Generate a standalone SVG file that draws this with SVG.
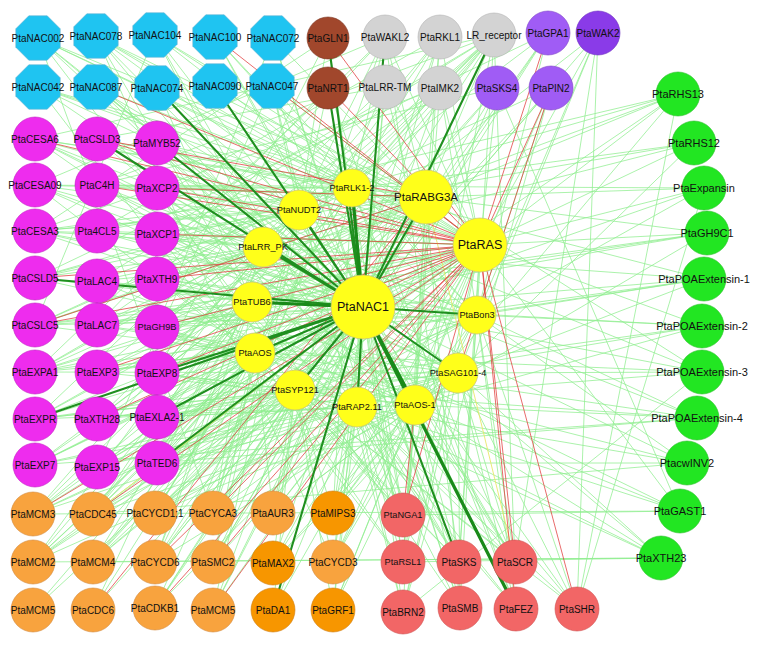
<svg xmlns="http://www.w3.org/2000/svg" xmlns:xlink="http://www.w3.org/1999/xlink" width="760" height="645" viewBox="0 0 760 645">
<style>
.g{stroke:#8fee8f;stroke-width:.75;fill:none}
.r{stroke:#e03a3a;stroke-width:.75;fill:none}
.y{stroke:#e8e86a;stroke-width:.9;fill:none}
.d{stroke:#1f8f1f;stroke-width:2.1;fill:none}
.d2{stroke:#1a8a1a;stroke-width:3.2;fill:none}
.nb{fill:#1fc4f1;stroke:#62b2d2;stroke-width:.6}
.br{fill:#a1472c;stroke:#7c3622;stroke-width:.6}
.gr{fill:#d3d3d3;stroke:#b2b2b2;stroke-width:.6}
.pu{fill:#a05cf5;stroke:#7f45c8;stroke-width:.6}
.pu2{fill:#8a3be8;stroke:#6c2cc0;stroke-width:.6}
.pk{fill:#ee2cee;stroke:#c21fc2;stroke-width:.6}
.ye{fill:#ffff1a;stroke:#c9c27a;stroke-width:.7}
.or{fill:#f8a33e;stroke:#d48a3c;stroke-width:.6}
.or2{fill:#f79600;stroke:#d07e10;stroke-width:.6}
.rd{fill:#f26666;stroke:#d05050;stroke-width:.6}
.gn{fill:#22e622;stroke:#2bbf2b;stroke-width:.6}
text{font-family:"Liberation Sans",Arial,sans-serif;font-size:10px;text-anchor:middle;dominant-baseline:central;fill:#111}
.s{font-size:9.2px}
.big{font-size:12.5px}
.gt{font-size:11px}
</style>
<defs>
<polygon id="oct" points="9.2,-22.2 22.2,-9.2 22.2,9.2 9.2,22.2 -9.2,22.2 -22.2,9.2 -22.2,-9.2 -9.2,-22.2"/>
</defs>
<rect width="760" height="645" fill="#fff"/>
<g id="connectors">
<path class="g" d="M363 307L38 38M363 307L96 36M363 307L155 35M363 307L215 37M363 307L273 38M363 307L38 87M363 307L96 87M363 307L272 86M363 307L385 87M363 307L440 37M363 307L440 88M363 307L548 33M363 307L598 33M363 307L497 88M363 307L551 88M363 307L678 94M363 307L704 188M363 307L704 279M363 307L702 372M363 307L687 463M363 307L661 558M363 307L35 139M363 307L35 185M363 307L97 185M363 307L157 188M363 307L35 231M363 307L97 231M363 307L157 234M363 307L97 281M363 307L157 279M363 307L35 325M363 307L97 325M363 307L157 327M363 307L35 372M363 307L97 372M363 307L97 419M363 307L35 465M363 307L97 467M363 307L33 514M363 307L93 514M363 307L155 513M363 307L213 513M363 307L273 513M363 307L333 513M363 307L33 562M363 307L93 562M363 307L155 562M363 307L213 562M363 307L273 563M363 307L333 562M363 307L33 610M363 307L93 610M363 307L155 608M363 307L213 610M363 307L333 610M363 307L403 515M363 307L403 562M363 307L403 612M363 307L460 608M363 307L515 562M363 307L577 609"/>
<path class="g" d="M480 245L38 38M480 245L96 36M480 245L155 35M480 245L38 87M480 245L157 88M480 245L215 86M480 245L272 86M480 245L385 37M480 245L440 37M480 245L440 88M480 245L385 87M480 245L598 33M480 245L497 88M480 245L35 231M480 245L97 231M480 245L97 281M480 245L97 325M480 245L157 143M480 245L35 372M480 245L35 419M480 245L157 417M480 245L157 463M480 245L35 465M480 245L97 467M480 245L35 185M480 245L33 562M480 245L93 562M480 245L155 513M480 245L273 513M480 245L333 513M480 245L273 563M480 245L273 610M480 245L333 610M480 245L333 562M480 245L403 612M480 245L459 562M480 245L460 608M480 245L403 562M480 245L678 94M480 245L694 143M480 245L707 233M480 245L702 326M480 245L680 511"/>
<path class="g" d="M426 197L35 139M426 197L35 185M426 197L35 231M426 197L35 278M426 197L35 325M426 197L35 372M426 197L35 419M426 197L35 465M426 197L97 185M426 197L97 325M426 197L157 234M426 197L157 327M426 197L97 372M426 197L38 38M426 197L96 36M426 197L38 87M426 197L155 35M426 197L273 38M426 197L33 514M426 197L33 562M426 197L93 514M426 197L155 562M426 197L213 513M426 197L213 562M426 197L213 610M426 197L155 608M426 197L93 562M426 197L403 612M426 197L403 562M426 197L460 608M426 197L678 94M426 197L702 372M426 197L704 188M426 197L385 37M426 197L440 37M426 197L494 35"/>
<path class="g" d="M352 188L35 139M352 188L97 139M352 188L157 143M352 188L35 185M352 188L157 188M352 188L97 231M352 188L97 281M352 188L35 372M352 188L38 38M352 188L96 36M352 188L155 35M352 188L215 37M352 188L38 87M352 188L96 87M352 188L155 513M352 188L273 513M352 188L333 513M352 188L403 515M352 188L515 562M352 188L516 609M352 188L704 279M352 188L707 233M352 188L385 37M352 188L440 88"/>
<path class="g" d="M299 210L35 139M299 210L97 139M299 210L157 143M299 210L97 185M299 210L157 188M299 210L35 231M299 210L157 234M299 210L35 278M299 210L35 325M299 210L97 372M299 210L157 373M299 210L38 87M299 210L96 87M299 210L157 88M299 210L215 86M299 210L272 86M299 210L33 514M299 210L93 514M299 210L213 513M299 210L213 562M299 210L403 515M299 210L459 562M299 210L694 143M299 210L702 372M299 210L328 38M299 210L385 37"/>
<path class="g" d="M263 247L35 139M263 247L35 185M263 247L97 185M263 247L157 188M263 247L35 231M263 247L97 231M263 247L157 234M263 247L35 278M263 247L97 281M263 247L157 279M263 247L35 325M263 247L97 325M263 247L157 327M263 247L35 372M263 247L157 373M263 247L38 38M263 247L96 87M263 247L155 35M263 247L33 562M263 247L93 610M263 247L155 562M263 247L459 562M263 247L515 562M263 247L704 279M263 247L697 418M263 247L678 94M263 247L440 37M263 247L494 35"/>
<path class="g" d="M252 302L35 231M252 302L35 278M252 302L97 281M252 302L157 279M252 302L35 325M252 302L97 325M252 302L157 327M252 302L35 372M252 302L97 372M252 302L157 373M252 302L35 419M252 302L97 419M252 302L157 417M252 302L35 465M252 302L97 467M252 302L157 463M252 302L33 514M252 302L93 514M252 302L155 513M252 302L213 513M252 302L93 562M252 302L155 562M252 302L96 36M252 302L157 88M252 302L460 608M252 302L516 609M252 302L704 188M252 302L707 233M252 302L702 326M252 302L680 511M252 302L494 35M252 302L598 33"/>
<path class="g" d="M255 353L35 325M255 353L97 325M255 353L157 327M255 353L35 372M255 353L97 372M255 353L157 373M255 353L35 419M255 353L97 419M255 353L157 417M255 353L35 465M255 353L97 467M255 353L157 463M255 353L35 185M255 353L157 234M255 353L33 514M255 353L93 514M255 353L155 513M255 353L213 513M255 353L273 513M255 353L33 562M255 353L93 562M255 353L155 562M255 353L213 562M255 353L33 610M255 353L93 610M255 353L403 515M255 353L403 562M255 353L459 562M255 353L702 372M255 353L697 418M255 353L687 463M255 353L440 37"/>
<path class="g" d="M295 390L157 373M295 390L157 417M295 390L157 463M295 390L97 467M295 390L97 419M295 390L35 419M295 390L157 327M295 390L157 279M295 390L157 188M295 390L33 514M295 390L93 514M295 390L155 513M295 390L213 513M295 390L273 513M295 390L333 513M295 390L33 562M295 390L93 562M295 390L155 562M295 390L213 562M295 390L273 563M295 390L333 562M295 390L155 608M295 390L213 610M295 390L273 610M295 390L333 610M295 390L403 515M295 390L459 562M295 390L515 562M295 390L577 609M295 390L697 418M295 390L661 558M295 390L548 33"/>
<path class="g" d="M357 407L157 463M357 407L157 417M357 407L97 467M357 407L35 465M357 407L35 419M357 407L157 373M357 407L157 327M357 407L157 279M357 407L157 234M357 407L157 143M357 407L155 513M357 407L213 513M357 407L273 513M357 407L333 513M357 407L213 562M357 407L273 563M357 407L333 562M357 407L155 608M357 407L213 610M357 407L273 610M357 407L333 610M357 407L403 515M357 407L403 562M357 407L403 612M357 407L459 562M357 407L460 608M357 407L515 562M357 407L516 609M357 407L577 609M357 407L687 463M357 407L680 511M357 407L661 558M357 407L385 87M357 407L497 88"/>
<path class="g" d="M415 405L157 463M415 405L157 417M415 405L157 373M415 405L157 327M415 405L157 279M415 405L97 281M415 405L157 188M415 405L35 139M415 405L97 372M415 405L97 139M415 405L93 514M415 405L155 513M415 405L213 513M415 405L273 513M415 405L333 513M415 405L333 562M415 405L333 610M415 405L273 563M415 405L403 562M415 405L459 562M415 405L460 608M415 405L515 562M415 405L516 609M415 405L707 233M415 405L702 326M415 405L697 418M415 405L680 511M415 405L661 558M415 405L678 94M415 405L551 88M415 405L440 37"/>
<path class="g" d="M458 373L35 185M458 373L97 185M458 373L157 234M458 373L35 278M458 373L97 325M458 373L35 372M458 373L35 419M458 373L35 465M458 373L97 467M458 373L97 419M458 373L33 514M458 373L33 562M458 373L155 562M458 373L273 513M458 373L333 513M458 373L273 563M458 373L403 612M458 373L460 608M458 373L516 609M458 373L515 562M458 373L577 609M458 373L694 143M458 373L704 279M458 373L702 372M458 373L661 558M458 373L38 38M458 373L96 87M458 373L385 87M458 373L598 33"/>
<path class="g" d="M477 315L35 139M477 315L97 139M477 315L157 188M477 315L35 231M477 315L97 231M477 315L157 279M477 315L35 325M477 315L157 327M477 315L97 372M477 315L157 417M477 315L157 463M477 315L33 514M477 315L93 514M477 315L155 513M477 315L333 513M477 315L333 562M477 315L333 610M477 315L515 562M477 315L516 609M477 315L577 609M477 315L459 562M477 315L704 188M477 315L704 279M477 315L702 326M477 315L697 418M477 315L687 463M477 315L96 36M477 315L215 37M477 315L272 86M477 315L494 35M477 315L440 88M477 315L551 88M477 315L598 33M477 315L548 33"/>
<path class="g" d="M494 35L35 139M494 35L97 185M494 35L157 234M494 35L97 281M494 35L157 327M494 35L157 373M494 35L157 463M494 35L97 419M494 35L93 514M494 35L155 562M494 35L403 515M494 35L515 562M385 37L35 185M385 37L157 279M385 37L35 372M385 37L213 513M385 37L459 562M440 37L97 231M440 37L157 417M440 37L273 513M440 88L35 231M440 88L97 325M440 88L33 562M440 88L403 562M385 87L97 139M385 87L35 419M385 87L155 608M548 33L157 327M548 33L35 278M548 33L213 562M497 88L97 185M497 88L157 463M497 88L680 511M497 88L93 562M551 88L35 325M551 88L155 513M551 88L403 612M598 33L515 562M598 33L577 609M328 38L35 231M328 38L157 373M328 38L403 562M328 88L97 325M328 88L213 610M328 88L516 609"/>
<path class="g" d="M38 38L403 515M38 38L213 513M96 36L333 562M96 36L577 609M155 35L459 562M155 35L35 325M215 37L515 562M273 38L157 327M273 38L460 608M38 87L403 562M272 86L97 467M272 86L403 612M678 94L577 609M678 94L35 278M678 94L97 231M694 143L35 231M694 143L157 279M704 188L577 609M704 188L97 185M707 233L35 325M707 233L157 327M704 279L97 372M704 279L35 372M702 326L157 417M702 326L35 419M702 372L97 419M702 372L403 612M697 418L157 463M697 418L35 465M687 463L157 463M687 463L93 514M680 511L33 514M680 511L403 515M661 558L33 562M661 558L403 562M661 558L93 562"/>
<path class="y" d="M93 514L363 307M515 562L426 197"/>
<path class="r" d="M480 245L35 139M480 245L97 139M480 245L97 185M480 245L157 188M480 245L157 234M480 245L35 278M480 245L157 279M480 245L35 325M480 245L157 327M480 245L157 373M480 245L97 372M480 245L97 419M480 245L328 38M480 245L215 37M480 245L96 87M480 245L272 86M480 245L548 33M480 245L551 88M480 245L328 88M480 245L33 514M480 245L93 514M480 245L155 562M480 245L213 562M480 245L213 610M480 245L213 513M480 245L155 608M480 245L577 609M480 245L515 562M480 245L403 515M480 245L516 609M426 197L157 188M426 197L35 325M426 197L93 610M426 197L97 139M415 405L403 515M551 88L458 373"/>
<path class="d" d="M363 307L426 197M363 307L299 210M363 307L263 247M363 307L255 353M363 307L477 315M363 307L458 373M363 307L357 407M363 307L295 390M363 307L328 38M363 307L328 88M363 307L494 35M363 307L385 37M363 307L157 88M363 307L215 86M363 307L97 139M363 307L35 278M363 307L157 143M363 307L157 373M363 307L35 419M363 307L157 417M363 307L157 463M363 307L273 610M363 307L459 562"/>
<path class="d2" d="M363 307L252 302M363 307L415 405M363 307L516 609M363 307L352 188"/>
</g>
<g id="PtaNAC002"><use href="#oct" x="38" y="38" class="nb"/><text x="38" y="38">PtaNAC002</text></g>
<g id="PtaNAC078"><use href="#oct" x="96" y="36" class="nb"/><text x="96" y="36">PtaNAC078</text></g>
<g id="PtaNAC104"><use href="#oct" x="155" y="35" class="nb"/><text x="155" y="35">PtaNAC104</text></g>
<g id="PtaNAC100"><use href="#oct" x="215" y="37" class="nb"/><text x="215" y="37">PtaNAC100</text></g>
<g id="PtaNAC072"><use href="#oct" x="273" y="38" class="nb"/><text x="273" y="38">PtaNAC072</text></g>
<g id="PtaNAC042"><use href="#oct" x="38" y="87" class="nb"/><text x="38" y="87">PtaNAC042</text></g>
<g id="PtaNAC087"><use href="#oct" x="96" y="87" class="nb"/><text x="96" y="87">PtaNAC087</text></g>
<g id="PtaNAC074"><use href="#oct" x="157" y="88" class="nb"/><text x="157" y="88">PtaNAC074</text></g>
<g id="PtaNAC090"><use href="#oct" x="215" y="86" class="nb"/><text x="215" y="86">PtaNAC090</text></g>
<g id="PtaNAC047"><use href="#oct" x="272" y="86" class="nb"/><text x="272" y="86">PtaNAC047</text></g>
<g id="PtaGLN1"><circle cx="328" cy="38" r="21" class="br"/><text x="328" y="38">PtaGLN1</text></g>
<g id="PtaNRT1"><circle cx="328" cy="88" r="21" class="br"/><text x="328" y="88">PtaNRT1</text></g>
<g id="PtaWAKL2"><circle cx="385" cy="37" r="22" class="gr"/><text x="385" y="37">PtaWAKL2</text></g>
<g id="PtaRKL1"><circle cx="440" cy="37" r="22" class="gr"/><text x="440" y="37">PtaRKL1</text></g>
<g id="LR_receptor"><circle cx="494" cy="35" r="22" class="gr"/><text x="494" y="35">LR_receptor</text></g>
<g id="PtaLRR-TM"><circle cx="385" cy="87" r="22" class="gr"/><text x="385" y="87">PtaLRR-TM</text></g>
<g id="PtaIMK2"><circle cx="440" cy="88" r="22" class="gr"/><text x="440" y="88">PtaIMK2</text></g>
<g id="PtaGPA1"><circle cx="548" cy="33" r="22" class="pu"/><text x="548" y="33">PtaGPA1</text></g>
<g id="PtaWAK2"><circle cx="598" cy="33" r="22" class="pu2"/><text x="598" y="33">PtaWAK2</text></g>
<g id="PtaSKS4"><circle cx="497" cy="88" r="22" class="pu"/><text x="497" y="88">PtaSKS4</text></g>
<g id="PtaPIN2"><circle cx="551" cy="88" r="22" class="pu"/><text x="551" y="88">PtaPIN2</text></g>
<g id="PtaRHS13"><circle cx="678" cy="94" r="22" class="gn"/><text x="678" y="94" class="gt">PtaRHS13</text></g>
<g id="PtaRHS12"><circle cx="694" cy="143" r="22" class="gn"/><text x="694" y="143" class="gt">PtaRHS12</text></g>
<g id="PtaExpansin"><circle cx="704" cy="188" r="22" class="gn"/><text x="704" y="188" class="gt">PtaExpansin</text></g>
<g id="PtaGH9C1"><circle cx="707" cy="233" r="22" class="gn"/><text x="707" y="233" class="gt">PtaGH9C1</text></g>
<g id="PtaPOAExtensin-1"><circle cx="704" cy="279" r="22" class="gn"/><text x="704" y="279" class="gt">PtaPOAExtensin-1</text></g>
<g id="PtaPOAExtensin-2"><circle cx="702" cy="326" r="22" class="gn"/><text x="702" y="326" class="gt">PtaPOAExtensin-2</text></g>
<g id="PtaPOAExtensin-3"><circle cx="702" cy="372" r="22" class="gn"/><text x="702" y="372" class="gt">PtaPOAExtensin-3</text></g>
<g id="PtaPOAExtensin-4"><circle cx="697" cy="418" r="22" class="gn"/><text x="697" y="418" class="gt">PtaPOAExtensin-4</text></g>
<g id="PtacwINV2"><circle cx="687" cy="463" r="22" class="gn"/><text x="687" y="463" class="gt">PtacwINV2</text></g>
<g id="PtaGAST1"><circle cx="680" cy="511" r="22" class="gn"/><text x="680" y="511" class="gt">PtaGAST1</text></g>
<g id="PtaXTH23"><circle cx="661" cy="558" r="22" class="gn"/><text x="661" y="558" class="gt">PtaXTH23</text></g>
<g id="PtaCESA6"><circle cx="35" cy="139" r="22" class="pk"/><text x="35" y="139">PtaCESA6</text></g>
<g id="PtaCSLD3"><circle cx="97" cy="139" r="22" class="pk"/><text x="97" y="139">PtaCSLD3</text></g>
<g id="PtaMYB52"><circle cx="157" cy="143" r="22" class="pk"/><text x="157" y="143">PtaMYB52</text></g>
<g id="PtaCESA09"><circle cx="35" cy="185" r="22" class="pk"/><text x="35" y="185">PtaCESA09</text></g>
<g id="PtaC4H"><circle cx="97" cy="185" r="22" class="pk"/><text x="97" y="185">PtaC4H</text></g>
<g id="PtaXCP2"><circle cx="157" cy="188" r="22" class="pk"/><text x="157" y="188">PtaXCP2</text></g>
<g id="PtaCESA3"><circle cx="35" cy="231" r="22" class="pk"/><text x="35" y="231">PtaCESA3</text></g>
<g id="Pta4CL5"><circle cx="97" cy="231" r="22" class="pk"/><text x="97" y="231">Pta4CL5</text></g>
<g id="PtaXCP1"><circle cx="157" cy="234" r="22" class="pk"/><text x="157" y="234">PtaXCP1</text></g>
<g id="PtaCSLD5"><circle cx="35" cy="278" r="22" class="pk"/><text x="35" y="278">PtaCSLD5</text></g>
<g id="PtaLAC4"><circle cx="97" cy="281" r="22" class="pk"/><text x="97" y="281">PtaLAC4</text></g>
<g id="PtaXTH9"><circle cx="157" cy="279" r="22" class="pk"/><text x="157" y="279">PtaXTH9</text></g>
<g id="PtaCSLC5"><circle cx="35" cy="325" r="22" class="pk"/><text x="35" y="325">PtaCSLC5</text></g>
<g id="PtaLAC7"><circle cx="97" cy="325" r="22" class="pk"/><text x="97" y="325">PtaLAC7</text></g>
<g id="PtaGH9B"><circle cx="157" cy="327" r="22" class="pk"/><text x="157" y="327" class="s">PtaGH9B</text></g>
<g id="PtaEXPA1"><circle cx="35" cy="372" r="22" class="pk"/><text x="35" y="372">PtaEXPA1</text></g>
<g id="PtaEXP3"><circle cx="97" cy="372" r="22" class="pk"/><text x="97" y="372">PtaEXP3</text></g>
<g id="PtaEXP8"><circle cx="157" cy="373" r="22" class="pk"/><text x="157" y="373">PtaEXP8</text></g>
<g id="PtaEXPR"><circle cx="35" cy="419" r="22" class="pk"/><text x="35" y="419">PtaEXPR</text></g>
<g id="PtaXTH28"><circle cx="97" cy="419" r="22" class="pk"/><text x="97" y="419">PtaXTH28</text></g>
<g id="PtaEXLA2-1"><circle cx="157" cy="417" r="22" class="pk"/><text x="157" y="417">PtaEXLA2-1</text></g>
<g id="PtaEXP7"><circle cx="35" cy="465" r="22" class="pk"/><text x="35" y="465">PtaEXP7</text></g>
<g id="PtaEXP15"><circle cx="97" cy="467" r="22" class="pk"/><text x="97" y="467">PtaEXP15</text></g>
<g id="PtaTED6"><circle cx="157" cy="463" r="22" class="pk"/><text x="157" y="463">PtaTED6</text></g>
<g id="PtaMCM3"><circle cx="33" cy="514" r="22" class="or"/><text x="33" y="514">PtaMCM3</text></g>
<g id="PtaCDC45"><circle cx="93" cy="514" r="22" class="or"/><text x="93" y="514">PtaCDC45</text></g>
<g id="PtaCYCD1_1"><circle cx="155" cy="513" r="22" class="or"/><text x="155" y="513">PtaCYCD1;1</text></g>
<g id="PtaCYCA3"><circle cx="213" cy="513" r="22" class="or"/><text x="213" y="513">PtaCYCA3</text></g>
<g id="PtaAUR3"><circle cx="273" cy="513" r="22" class="or"/><text x="273" y="513">PtaAUR3</text></g>
<g id="PtaMIPS3"><circle cx="333" cy="513" r="22" class="or2"/><text x="333" y="513">PtaMIPS3</text></g>
<g id="PtaMCM2"><circle cx="33" cy="562" r="22" class="or"/><text x="33" y="562">PtaMCM2</text></g>
<g id="PtaMCM4"><circle cx="93" cy="562" r="22" class="or"/><text x="93" y="562">PtaMCM4</text></g>
<g id="PtaCYCD6"><circle cx="155" cy="562" r="22" class="or"/><text x="155" y="562">PtaCYCD6</text></g>
<g id="PtaSMC2"><circle cx="213" cy="562" r="22" class="or"/><text x="213" y="562">PtaSMC2</text></g>
<g id="PtaMAX2"><circle cx="273" cy="563" r="22" class="or2"/><text x="273" y="563">PtaMAX2</text></g>
<g id="PtaCYCD3"><circle cx="333" cy="562" r="22" class="or"/><text x="333" y="562">PtaCYCD3</text></g>
<g id="PtaMCM5-a"><circle cx="33" cy="610" r="22" class="or"/><text x="33" y="610">PtaMCM5</text></g>
<g id="PtaCDC6"><circle cx="93" cy="610" r="22" class="or"/><text x="93" y="610">PtaCDC6</text></g>
<g id="PtaCDKB1"><circle cx="155" cy="608" r="22" class="or"/><text x="155" y="608">PtaCDKB1</text></g>
<g id="PtaMCM5-b"><circle cx="213" cy="610" r="22" class="or"/><text x="213" y="610">PtaMCM5</text></g>
<g id="PtaDA1"><circle cx="273" cy="610" r="22" class="or2"/><text x="273" y="610">PtaDA1</text></g>
<g id="PtaGRF1"><circle cx="333" cy="610" r="22" class="or2"/><text x="333" y="610">PtaGRF1</text></g>
<g id="PtaNGA1"><circle cx="403" cy="515" r="22" class="rd"/><text x="403" y="515" class="s">PtaNGA1</text></g>
<g id="PtaRSL1"><circle cx="403" cy="562" r="22" class="rd"/><text x="403" y="562" class="s">PtaRSL1</text></g>
<g id="PtaBRN2"><circle cx="403" cy="612" r="22" class="rd"/><text x="403" y="612">PtaBRN2</text></g>
<g id="PtaSKS"><circle cx="459" cy="562" r="22" class="rd"/><text x="459" y="562">PtaSKS</text></g>
<g id="PtaSMB"><circle cx="460" cy="608" r="22" class="rd"/><text x="460" y="608">PtaSMB</text></g>
<g id="PtaSCR"><circle cx="515" cy="562" r="22" class="rd"/><text x="515" y="562">PtaSCR</text></g>
<g id="PtaFEZ"><circle cx="516" cy="609" r="22" class="rd"/><text x="516" y="609">PtaFEZ</text></g>
<g id="PtaSHR"><circle cx="577" cy="609" r="22" class="rd"/><text x="577" y="609">PtaSHR</text></g>
<g id="PtaRLK1-2"><circle cx="352" cy="188" r="19" class="ye"/><text x="352" y="188" class="s">PtaRLK1-2</text></g>
<g id="PtaRABG3A"><circle cx="426" cy="197" r="27" class="ye"/><text x="426" y="197" style="font-size:11.5px">PtaRABG3A</text></g>
<g id="PtaNUDT2"><circle cx="299" cy="210" r="20" class="ye"/><text x="299" y="210" class="s">PtaNUDT2</text></g>
<g id="PtaLRR_PK"><circle cx="263" cy="247" r="20" class="ye"/><text x="263" y="247" class="s">PtaLRR_PK</text></g>
<g id="PtaRAS"><circle cx="480" cy="245" r="27" class="ye"/><text x="480" y="245" class="big">PtaRAS</text></g>
<g id="PtaTUB6"><circle cx="252" cy="302" r="20" class="ye"/><text x="252" y="302" class="s">PtaTUB6</text></g>
<g id="PtaNAC1"><circle cx="363" cy="307" r="32" class="ye"/><text x="363" y="307" class="big">PtaNAC1</text></g>
<g id="PtaBon3"><circle cx="477" cy="315" r="19" class="ye"/><text x="477" y="315" class="s">PtaBon3</text></g>
<g id="PtaAOS"><circle cx="255" cy="353" r="20" class="ye"/><text x="255" y="353" class="s">PtaAOS</text></g>
<g id="PtaSAG101-4"><circle cx="458" cy="373" r="20" class="ye"/><text x="458" y="373" class="s">PtaSAG101-4</text></g>
<g id="PtaSYP121"><circle cx="295" cy="390" r="20" class="ye"/><text x="295" y="390" class="s">PtaSYP121</text></g>
<g id="PtaRAP2.11"><circle cx="357" cy="407" r="20" class="ye"/><text x="357" y="407" class="s">PtaRAP2.11</text></g>
<g id="PtaAOS-1"><circle cx="415" cy="405" r="20" class="ye"/><text x="415" y="405" class="s">PtaAOS-1</text></g>
</svg>
